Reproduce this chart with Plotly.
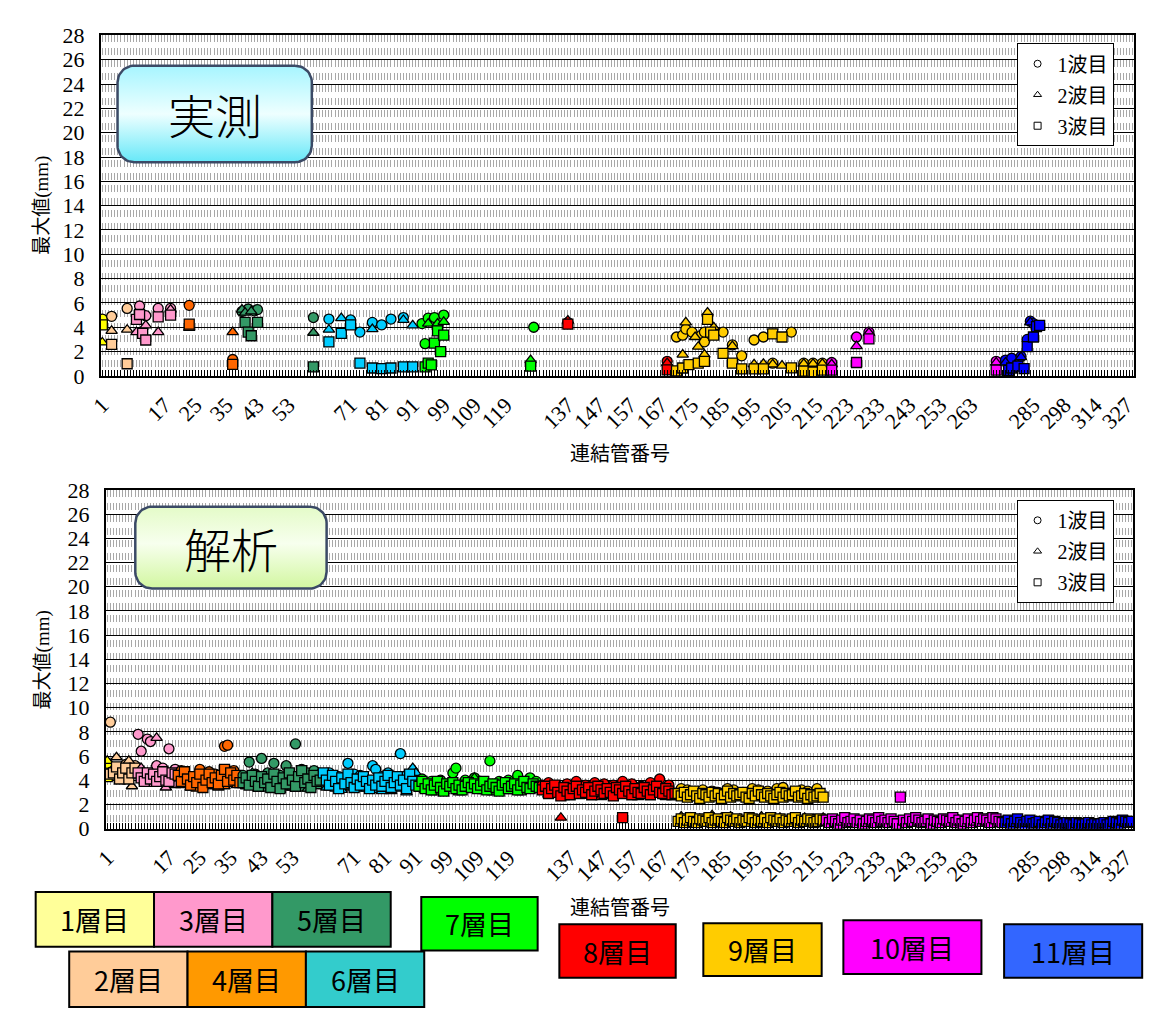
import bisect
import numpy as np
import plotly.graph_objects as go

W, H = 1158, 1025

# ---- categories / layers ----
layer_names = ["1層目", "2層目", "3層目", "4層目", "5層目", "6層目",
               "7層目", "8層目", "9層目", "10層目", "11層目"]
marker_colors = ["#FFFF00", "#FFCC99", "#FF99CC", "#FF6600", "#339966", "#00CCFF",
                 "#00FF00", "#FF0000", "#FFCC00", "#FF00FF", "#0000FF"]
box_colors = ["#FFFF99", "#FFCC99", "#FF99CC", "#FF9900", "#339966", "#33CCCC",
              "#00FF00", "#FF0000", "#FFCC00", "#FF00FF", "#3366FF"]
layer_first_slot = [0, 1, 10, 23, 44, 70, 101, 141, 185, 233, 291]
n_slots = 333
# label shown every 10 slots of the category axis
tick_labels = ["1", "", "17", "25", "35", "43", "53", "", "71", "81",
               "91", "99", "109", "119", "", "137", "147", "157", "167", "175",
               "185", "195", "205", "215", "223", "233", "243", "253", "263", "",
               "285", "298", "314", "327"]
wave_names = ["1波目", "2波目", "3波目"]

# ---- 実測 (measured) ----
obs_c_slot = [0, 3, 8, 12, 14, 18, 22, 28, 42, 45, 47, 49, 50, 68,
              73, 80, 83, 87, 90, 93, 97, 103, 104, 105, 107, 110, 139, 150, 182,
              185, 187, 188, 190, 193, 194, 194, 200, 203, 206, 210, 213, 216, 222, 226, 229, 232,
              235, 243, 247, 288, 291, 293, 296, 298, 299, 300]
obs_c_val = [4.67, 4.9, 5.55, 5.75, 4.95, 5.55, 5.55, 5.8, 1.35, 5.3, 5.5, 5.35, 5.45, 4.8,
             4.67, 4.6, 3.6, 4.4, 4.2, 4.67, 4.8, 4.3, 2.65, 4.75, 4.8, 5.0, 4.0, 4.4, 1.2,
             3.2, 3.35, 3.85, 3.6, 3.35, 2.8, 3.6, 3.6, 2.55, 1.65, 2.95, 3.2, 1.05, 3.6, 1.05, 1.05, 1.05,
             1.1, 3.2, 3.6, 1.2, 1.3, 1.45, 1.6, 3.0, 4.5, 4.3]
obs_t_slot = [0, 3, 8, 11, 14, 18, 22, 28, 42, 45, 46, 48, 68,
              73, 77, 87, 97, 100, 105, 108, 110, 138, 150, 182,
              187, 188, 191, 192, 194, 195, 197, 203, 210, 213, 216, 219, 226, 229, 232,
              235, 243, 247, 288, 291, 294, 296, 299]
obs_t_val = [2.75, 3.7, 3.8, 3.6, 4.15, 3.6, 5.45, 3.95, 3.6, 5.45, 5.2, 5.3, 3.55,
             3.8, 4.75, 3.85, 4.6, 4.15, 4.3, 4.3, 4.45, 1.3, 4.55, 1.05,
             1.75, 4.4, 3.2, 2.4, 1.75, 5.2, 4.0, 2.45, 0.95, 1.0, 0.95, 0.85, 1.0, 1.0, 1.0,
             0.95, 2.45, 3.55, 1.1, 1.1, 0.9, 1.55, 4.4]
obs_s_slot = [0, 3, 8, 11, 12, 13, 14, 18, 22, 28, 42, 46, 47, 48, 50, 68,
              73, 77, 80, 83, 87, 90, 93, 97, 100,
              104, 105, 106, 107, 108, 109, 110, 138, 150, 182,
              185, 187, 189, 192, 194, 195, 196, 197, 200, 203, 206, 210, 213, 216, 219, 222, 226, 229, 232,
              235, 243, 247, 288, 292, 293, 295, 297, 298, 300, 301, 302]
obs_s_val = [4.2, 2.6, 1.0, 4.65, 5.05, 3.5, 2.95, 4.85, 5.0, 4.25, 0.95, 4.4, 3.6, 3.3, 4.4, 0.75,
             2.8, 3.5, 4.2, 1.05, 0.65, 0.6, 0.65, 0.75, 0.75,
             0.75, 1.05, 0.9, 2.7, 3.7, 2.0, 3.35, 0.8, 4.25, 0.5,
             0.42, 0.65, 0.93, 1.05, 1.2, 4.65, 3.6, 3.35, 1.85, 1.05, 0.58, 0.58, 0.58, 3.45, 3.2, 0.66, 0.4, 0.32, 0.48,
             0.48, 1.1, 3.05, 0.48, 0.45, 0.65, 0.8, 0.6, 2.4, 3.2, 4.05, 4.15]

# ---- 解析 (analysis) ----
# 3波目: one value per slot 0..332
sim_s_val = [
    4.3, 4.5,
    4.6, 5.1, 4.1, 4.6, 5.0, 4.1, 4.6, 5.0,
    4.6, 4.2, 3.9, 4.6, 4.1, 4.5, 3.9, 4.3, 4.7, 4.0, 3.9, 4.6, 4.5,
    4.4, 3.9, 4.7, 4.1, 3.6, 4.3, 3.8, 4.5, 3.4, 4.0,
    4.5, 3.8, 4.2, 3.7, 4.4, 4.9, 3.9, 4.6, 4.0, 4.4, 3.8,
    3.8, 4.2, 3.6, 4.4, 3.9, 3.5, 4.3, 3.8, 4.1, 3.4,
    4.5, 3.9, 3.3, 4.2, 3.7, 4.6, 4.0, 3.5, 4.3, 4.8,
    3.8, 4.1, 3.4, 4.4, 3.9, 4.0,
    4.6, 4.0, 3.6, 4.4, 3.9, 3.3, 4.2, 3.7, 4.5, 3.8,
    3.4, 4.1, 3.6, 4.3, 3.9, 3.3, 4.0, 3.6, 4.2, 3.5,
    3.9, 4.4, 3.4, 3.8, 4.3, 3.6, 4.0, 3.3, 4.5, 3.9, 3.6,
    3.5, 3.9, 3.3, 3.7, 3.2, 3.6, 3.9, 3.4, 3.1, 3.7,
    3.5, 3.8, 3.3, 3.6, 3.2, 3.5, 3.8, 3.4, 3.7, 3.3,
    3.6, 3.9, 3.2, 3.5, 3.7, 3.4, 3.1, 3.6, 3.8, 3.3,
    3.5, 3.7, 3.2, 3.6, 3.9, 3.4, 3.3, 3.7, 3.5, 3.4,
    3.2, 3.5, 2.9, 3.3, 3.6, 3.0, 2.7, 3.4, 3.1, 2.8,
    3.3, 3.5, 2.9, 3.2, 3.0, 3.4, 2.8, 3.1, 3.5, 3.2,
    2.9, 3.3, 3.0, 2.7, 3.4, 3.2, 2.9, 3.5, 3.1, 2.8,
    3.3, 3.0, 2.9, 3.4, 3.1, 2.8, 3.2, 3.5, 3.0, 2.9,
    3.3, 3.1, 2.8, 2.9,
    2.9, 2.7, 3.0, 2.6, 2.8, 3.1, 2.7, 2.5, 2.9, 2.8,
    2.6, 3.0, 2.7, 2.9, 2.5, 2.8, 3.1, 2.6, 2.9, 2.7,
    2.8, 3.0, 2.6, 2.5, 2.9, 2.7, 3.1, 2.8, 2.6, 2.9,
    2.7, 2.5, 2.8, 3.0, 2.6, 2.9, 2.7, 2.8, 3.1, 2.6,
    2.7, 2.9, 2.5, 2.8, 2.6, 2.7, 2.9, 2.6,
    0.7, 0.5, 0.8, 0.6, 0.4, 0.7, 0.9, 0.5, 0.6, 0.8,
    0.5, 0.7, 0.4, 0.6, 0.8, 0.7, 0.5, 0.9, 0.6, 0.7,
    0.5, 0.8, 0.6, 0.4, 2.6, 0.7, 0.5, 0.8, 0.6, 0.9,
    0.7, 0.5, 0.6, 0.8, 0.4, 0.7, 0.6, 0.5, 0.8, 0.7,
    0.6, 0.9, 0.5, 0.7, 0.4, 0.6, 0.8, 0.5, 0.7, 0.9,
    0.6, 0.8, 0.7, 0.5, 0.9, 0.8, 0.6, 0.5,
    0.5, 0.7, 0.4, 0.6, 0.8, 0.5, 0.3, 0.6, 0.7, 0.4,
    0.5, 0.6, 0.3, 0.5, 0.7, 0.4, 0.6, 0.5, 0.3, 0.4,
    0.5, 0.4, 0.3, 0.5, 0.4, 0.3, 0.4, 0.5, 0.3, 0.4,
    0.3, 0.4, 0.5, 0.3, 0.4, 0.6, 0.5, 0.4, 0.7, 0.6,
    0.5, 0.6,
]
# second 3波目 set (9層目 lower band and one 8層目 point)
sim_s2_slot = [167] + list(range(185, 233))
sim_s2_val = [0.9,
              0.6, 0.8, 0.5, 0.7, 0.9, 0.6, 0.5, 0.8, 0.7, 0.6,
              0.9, 0.5, 0.7, 0.8, 0.6, 0.5, 0.9, 0.7, 0.6, 0.8,
              0.5, 0.7, 0.6, 0.9, 0.8, 0.5, 0.7, 0.6, 0.8, 0.5,
              0.9, 0.7, 0.6, 0.8, 0.5, 0.7, 0.6, 0.8, 0.9, 0.5,
              0.7, 0.6, 0.8, 0.7, 0.5, 0.6, 0.8, 0.7]
sim_c_slot = [0, 1, 4, 6, 9, 10, 11, 13, 14, 16, 18, 20, 22,
              24, 27, 30, 33, 35, 38, 39, 41,
              44, 46, 48, 50, 52, 54, 56, 58, 61, 63, 65, 67, 69,
              72, 75, 78, 80, 82, 86, 87, 89, 91, 95, 97, 99,
              102, 105, 108, 112, 113, 116, 119, 121, 124, 127, 130, 133, 137, 139,
              141, 143, 146, 149, 152, 155, 158, 161, 164, 167, 170, 173, 176, 179, 182,
              186, 188, 190, 193, 196, 198, 201, 203, 206, 209, 211, 214, 217, 219, 222, 225, 227, 230,
              240, 250, 262, 275, 286, 295, 310, 325]
sim_c_val = [5.4, 8.8, 4.8, 5.3, 5.2, 7.8, 6.4, 7.4, 7.2, 5.2, 5.0, 6.6, 4.9,
             4.8, 4.3, 4.9, 4.7, 4.5, 6.8, 6.9, 4.8,
             4.4, 5.5, 4.5, 5.8, 4.6, 5.4, 4.4, 5.2, 7.0, 4.9, 4.6, 4.8, 4.5,
             4.6, 4.3, 5.4, 4.5, 4.4, 5.2, 4.9, 4.3, 4.6, 6.2, 4.4, 4.7,
             4.1, 3.9, 4.0, 4.6, 5.0, 4.0, 4.2, 3.9, 5.6, 3.9, 4.0, 4.4, 4.2, 3.9,
             3.6, 3.8, 3.5, 3.7, 3.9, 3.6, 3.8, 3.7, 3.6, 3.9, 3.7, 3.5, 3.8, 4.1, 3.6,
             3.3, 3.2, 3.0, 3.2, 3.1, 3.0, 3.3, 3.2, 3.0, 3.3, 3.2, 3.1, 3.3, 3.4, 3.0, 3.2, 3.1, 3.3,
             0.7, 0.8, 0.7, 0.8, 0.9, 0.5, 0.4, 0.5]
sim_t_slot = [0, 3, 5, 7, 8, 11, 13, 15, 16, 19, 22,
              24, 27, 29, 31, 33, 36, 38, 42,
              45, 47, 49, 51, 53, 56, 58, 60, 63, 65, 68,
              71, 74, 76, 79, 82, 84, 87, 89, 92, 94, 97, 99, 100,
              103, 106, 109, 111, 114, 117, 119, 122, 125, 128, 131, 134, 138,
              143, 145, 147, 148, 151, 154, 157, 160, 163, 166, 169, 172, 175, 178, 181,
              186, 189, 192, 196, 199, 202, 205, 208, 212, 215, 218, 222, 226, 229, 232,
              238, 245, 255, 268, 280, 300, 315]
sim_t_val = [5.6, 5.9, 4.4, 5.6, 3.5, 5.0, 4.6, 3.7, 7.5, 3.4, 3.6,
             3.6, 3.4, 3.3, 3.6, 3.5, 3.4, 3.5, 3.6,
             3.5, 4.6, 3.3, 3.3, 3.5, 3.2, 3.4, 3.4, 3.3, 3.3, 3.5,
             3.4, 3.3, 3.2, 3.4, 3.3, 3.3, 3.2, 3.1, 3.1, 3.3, 3.0, 5.0, 4.6,
             3.2, 3.0, 3.1, 3.4, 3.0, 3.2, 4.2, 3.1, 3.0, 3.2, 3.1, 3.0, 3.2,
             2.8, 3.0, 0.9, 2.6, 2.9, 2.7, 2.8, 2.6, 2.9, 2.7, 2.8, 2.6, 2.7, 2.8, 2.6,
             1.0, 0.9, 0.8, 1.1, 0.9, 1.0, 0.8, 0.9, 1.0, 0.8, 0.9, 0.8, 0.9, 0.8, 0.9,
             0.5, 0.6, 0.5, 0.6, 0.5, 0.4, 0.3]


def layer_of(slot):
    return bisect.bisect_right(layer_first_slot, slot) - 1


fig = go.Figure()

symbols = ["circle", "triangle-up", "square"]


def add_series(series, xa, ya):
    # series: list of (wave index, slots, values); drawn layer by layer
    for li in range(len(layer_names)):
        for wi, slots, vals in series:
            xs = [s for s in slots if layer_of(s) == li]
            ys = [v for s, v in zip(slots, vals) if layer_of(s) == li]
            if not xs:
                continue
            fig.add_trace(go.Scatter(
                x=xs, y=ys, mode="markers", xaxis=xa, yaxis=ya,
                marker=dict(symbol=symbols[wi], size=10, color=marker_colors[li],
                            line=dict(color="black", width=1.3)),
                showlegend=False, hoverinfo="skip"))


add_series([(0, obs_c_slot, obs_c_val), (1, obs_t_slot, obs_t_val),
            (2, obs_s_slot, obs_s_val)], "x", "y")
sim_s_slot = list(range(len(sim_s_val)))
add_series([(0, sim_c_slot, sim_c_val), (1, sim_t_slot, sim_t_val),
            (2, sim_s_slot, sim_s_val), (2, sim_s2_slot, sim_s2_val)], "x2", "y2")

# wave legends
for lg, xa, ya in [("legend", "x", "y"), ("legend2", "x2", "y2")]:
    for wi, nm in enumerate(wave_names):
        fig.add_trace(go.Scatter(
            x=[None], y=[None], mode="markers", name=nm, legend=lg, xaxis=xa, yaxis=ya,
            legendgroup=lg + nm,
            marker=dict(symbol=symbols[wi] + "-open", size=7, color="black",
                        line=dict(color="black", width=1))))


# rounded gradient title boxes (pixel coordinates on an overlay axis)
def rounded_rect(x0, y0, x1, y1, r, n=14):
    xs, ys = [], []
    for cx, cy, a0, a1 in [(x1 - r, y0 + r, -90, 0), (x1 - r, y1 - r, 0, 90),
                           (x0 + r, y1 - r, 90, 180), (x0 + r, y0 + r, 180, 270)]:
        t = np.radians(np.linspace(a0, a1, n))
        xs += list(cx + r * np.cos(t))
        ys += list(cy + r * np.sin(t))
    return xs + [xs[0]], ys + [ys[0]]


# colorscale runs bottom (0) -> top (1) on screen
for (x0, y0, x1, y1), scale, txt in [
        ((106, 55, 303, 154), [[0, "#66E8F8"], [0.5, "#EEFFFF"], [1, "#A6F5FF"]], "実測"),
        ((124, 507, 318, 591), [[0, "#D2F7A0"], [0.55, "#F7FFEE"], [1, "#E4FBC8"]], "解析")]:
    xs, ys = rounded_rect(x0, y0, x1, y1, 17)
    fig.add_trace(go.Scatter(
        x=xs, y=ys, mode="lines", fill="toself", xaxis="x3", yaxis="y3",
        fillgradient=dict(type="vertical", colorscale=scale),
        line=dict(color="#3B4A66", width=2.5), showlegend=False, hoverinfo="skip"))
    fig.add_annotation(x=(x0 + x1) / 2, y=(y0 + y1) / 2, xref="x3", yref="y3", text=txt,
                       showarrow=False,
                       font=dict(family="Noto Sans CJK JP", size=47, color="black", weight=300))

# layer colour key boxes
box_pos = [(23, 902, 143, 958), (57, 963, 177, 1020), (143, 902, 263, 958),
           (177, 963, 297, 1020), (263, 902, 383, 958), (297, 963, 417, 1020),
           (414, 907, 532, 962), (554, 935, 672, 990), (700, 934, 820, 988),
           (842, 931, 982, 986), (1005, 935, 1145, 990)]
for li, (x0, y0, x1, y1) in enumerate(box_pos):
    fig.add_shape(type="rect", xref="x3", yref="y3", x0=x0, y0=y0, x1=x1, y1=y1,
                  fillcolor=box_colors[li], line=dict(color="black", width=2))
    fig.add_annotation(x=(x0 + x1) / 2, y=(y0 + y1) / 2, xref="x3", yref="y3",
                       text=layer_names[li], showarrow=False,
                       font=dict(family="Noto Sans CJK JP", size=27, color="black"))

serif = "Liberation Serif, Noto Sans CJK JP"
tickvals = list(range(n_slots))
ticktext = [tick_labels[s // 10] if s % 10 == 0 and s // 10 < len(tick_labels) else ""
            for s in tickvals]

xcommon = dict(range=[-0.5, n_slots - 0.5], tickmode="array", tickvals=tickvals, ticktext=ticktext,
               tickangle=-45, ticks="inside", ticklen=6, tickcolor="black", tickwidth=1,
               tickfont=dict(family=serif, size=22, color="black"), ticklabelstandoff=6,
               showgrid=True, gridcolor="#A8A8A8", gridwidth=1, griddash="7px,5.5px",
               showline=True, mirror=True, linecolor="black", linewidth=1.5, zeroline=False)
ycommon = dict(range=[0, 28], tickmode="linear", tick0=0, dtick=2,
               tickfont=dict(family=serif, size=22, color="black"), ticks="",
               ticklabelstandoff=10,
               showgrid=True, gridcolor="black", gridwidth=1,
               showline=True, mirror=True, linecolor="black", linewidth=1.5, zeroline=False)

legcommon = dict(bgcolor="white", bordercolor="black", borderwidth=1, xanchor="right",
                 yanchor="top", font=dict(family=serif, size=20, color="black"),
                 tracegroupgap=2, itemwidth=30)

fig.update_layout(
    width=W, height=H, margin=dict(l=0, r=0, t=0, b=0),
    paper_bgcolor="white", plot_bgcolor="rgba(0,0,0,0)",
    xaxis=dict(domain=[89 / W, 1137 / W], anchor="y", **xcommon),
    yaxis=dict(domain=[1 - 373 / H, 1 - 24 / H], anchor="x", **ycommon),
    xaxis2=dict(domain=[94 / W, 1136 / W], anchor="y2", **xcommon),
    yaxis2=dict(domain=[1 - 837 / H, 1 - 490 / H], anchor="x2", **ycommon),
    xaxis3=dict(domain=[0, 1], range=[0, W], visible=False, anchor="y3"),
    yaxis3=dict(domain=[0, 1], range=[H, 0], visible=False, anchor="x3"),
    legend=dict(x=1116 / W, y=1 - 32 / H, **legcommon),
    legend2=dict(x=1116 / W, y=1 - 500 / H, **legcommon),
    showlegend=True,
)

# axis titles
for yc in [198, 664]:
    fig.add_annotation(x=30, y=yc, xref="x3", yref="y3", text="最大値(mm)", textangle=-90,
                       showarrow=False, font=dict(family=serif, size=19, color="black"))
for yc in [453, 918]:
    fig.add_annotation(x=615, y=yc, xref="x3", yref="y3", text="連結管番号",
                       showarrow=False, font=dict(family=serif, size=20, color="black"))

page_fix = ("document.documentElement.style.margin='0';document.body.style.margin='0';"
            "document.body.style.padding='0';document.documentElement.style.overflow='hidden';"
            "document.body.style.overflow='hidden';")
fig.write_html("out.html", config={"displayModeBar": False}, post_script=page_fix)
